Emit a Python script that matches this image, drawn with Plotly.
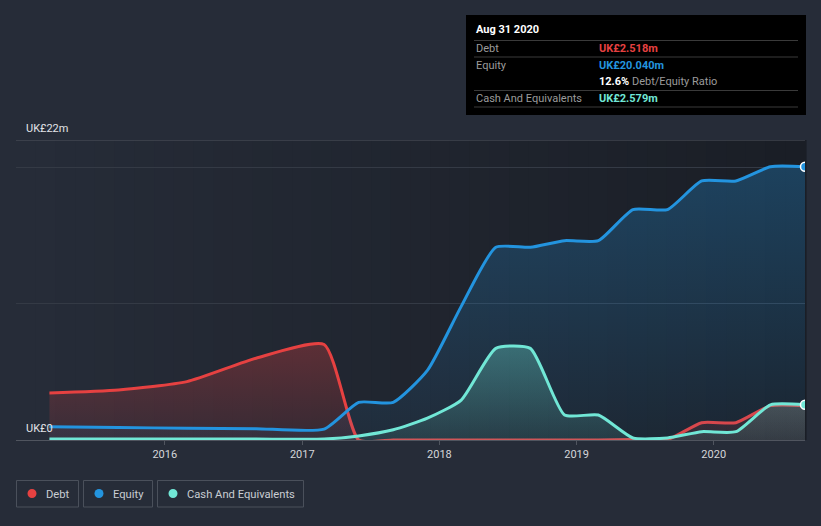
import plotly.graph_objects as go

# ---------------- data (UK£ millions) ----------------
dates = ["2015-02-28", "2015-08-31", "2016-02-29", "2016-08-31", "2017-02-28",
         "2017-05-31", "2017-08-31", "2017-11-30", "2018-02-28", "2018-05-31",
         "2018-08-31", "2018-11-30", "2019-02-28", "2019-05-31", "2019-08-31",
         "2019-11-30", "2020-02-29", "2020-05-31", "2020-08-31"]
debt = [3.45, 3.67, 4.28, 6.0, 7.0,
        0.0, 0.0, 0.0, 0.0, 0.0,
        0.0, 0.0, 0.0, 0.03, 0.03,
        1.27, 1.27, 2.518, 2.518]
equity = [0.98, 0.92, 0.86, 0.83, 0.80,
          2.76, 2.76, 5.1, 9.8, 14.13,
          14.13, 14.62, 14.62, 16.9, 16.9,
          19.0, 19.0, 20.04, 20.04]
cash = [0.07, 0.07, 0.07, 0.07, 0.07,
        0.3, 0.75, 1.6, 2.93, 6.72,
        6.72, 1.83, 1.83, 0.15, 0.15,
        0.61, 0.61, 2.579, 2.579]
year_ticks = ["2016-01-01", "2017-01-01", "2018-01-01", "2019-01-01", "2020-01-01"]
year_labels = ["2016", "2017", "2018", "2019", "2020"]
y_labels = ["UK£0", "UK£22m"]
y_label_vals = [0, 22]

DEBT_C = "#e64141"
EQ_C = "#2394df"
CASH_C = "#71e7d6"
BG = "#262c38"
FONT = "Roboto, Arial, sans-serif"
SMOOTH = 0.55

W, H = 821, 526
L, R, T, B = 16, 16, 140, 86
PW, PH = W - L - R, H - T - B


def px(x):
    return (x - L) / PW


def py(y):
    return (H - B - y) / PH


fig = go.Figure()

fig.add_trace(go.Scatter(
    x=dates, y=debt, name="Debt", mode="lines",
    line=dict(color=DEBT_C, width=3, shape="spline", smoothing=SMOOTH),
    fill="tozeroy",
    fillgradient=dict(type="vertical", start=0, stop=7,
                      colorscale=[[0, "rgba(230,65,65,0.10)"], [1, "rgba(230,65,65,0.30)"]]),
    hoverinfo="skip"))
fig.add_trace(go.Scatter(
    x=dates, y=equity, name="Equity", mode="lines",
    line=dict(color=EQ_C, width=3, shape="spline", smoothing=SMOOTH),
    fill="tozeroy",
    fillgradient=dict(type="vertical", start=0, stop=20,
                      colorscale=[[0, "rgba(35,148,223,0.06)"], [1, "rgba(35,148,223,0.30)"]]),
    hoverinfo="skip"))
fig.add_trace(go.Scatter(
    x=dates, y=cash, name="Cash And Equivalents", mode="lines",
    line=dict(color=CASH_C, width=3, shape="spline", smoothing=SMOOTH),
    fill="tozeroy",
    fillgradient=dict(type="vertical", start=0, stop=6.7,
                      colorscale=[[0, "rgba(113,231,214,0.10)"], [1, "rgba(113,231,214,0.32)"]]),
    hoverinfo="skip"))

# end markers (clipped by the plot edge, as in the reference)
fig.add_trace(go.Scatter(x=[dates[-1]], y=[equity[-1]], mode="markers",
                         marker=dict(color=EQ_C, size=9, line=dict(color="white", width=1.5)),
                         cliponaxis=True, hoverinfo="skip", showlegend=False))
fig.add_trace(go.Scatter(x=[dates[-1]], y=[cash[-1]], mode="markers",
                         marker=dict(color=CASH_C, size=9, line=dict(color="white", width=1.5)),
                         cliponaxis=True, hoverinfo="skip", showlegend=False))

shapes = []
# plot background gradient (left lighter -> right darker)
N = 40
c0 = (38, 44, 56)
c1 = (26, 30, 38)
for i in range(N):
    t = i / (N - 1)
    col = tuple(round(c0[k] + (c1[k] - c0[k]) * t) for k in range(3))
    shapes.append(dict(type="rect", xref="paper", yref="paper",
                       x0=i / N, x1=(i + 1) / N + 0.002, y0=0, y1=1,
                       fillcolor="rgb(%d,%d,%d)" % col, line=dict(width=0), layer="below"))
# top line at 22m
shapes.append(dict(type="line", xref="paper", yref="y", x0=0, x1=1, y0=22, y1=22,
                   line=dict(color="#50555f", width=1.2), layer="below"))

# tooltip box
shapes.append(dict(type="rect", xref="paper", yref="paper",
                   x0=px(466), x1=px(806), y0=py(115), y1=py(15),
                   fillcolor="#000000", line=dict(width=0), layer="above"))
for sy in [40.5, 57, 90.5, 107]:
    shapes.append(dict(type="line", xref="paper", yref="paper",
                       x0=px(474), x1=px(798), y0=py(sy), y1=py(sy),
                       line=dict(color="#3a3a3a", width=1), layer="above"))

# legend boxes
legend_items = [("Debt", DEBT_C, 16, 79), ("Equity", EQ_C, 83, 153),
                ("Cash And Equivalents", CASH_C, 157, 304)]
annotations = []
for name, col, x0, x1 in legend_items:
    shapes.append(dict(type="rect", xref="paper", yref="paper",
                       x0=px(x0 + 0.5), x1=px(x1 - 0.5), y0=py(507), y1=py(480.5),
                       fillcolor="rgba(0,0,0,0)", line=dict(color="#4a505b", width=1)))
    cx = x0 + 16
    shapes.append(dict(type="circle", xref="paper", yref="paper",
                       x0=px(cx - 4.5), x1=px(cx + 4.5), y0=py(493.5 + 4.5), y1=py(493.5 - 4.5),
                       fillcolor=col, line=dict(width=0)))
    annotations.append(dict(text=name, xref="paper", yref="paper", x=px(x0 + 28), y=py(494),
                            xanchor="left", yanchor="middle", showarrow=False,
                            font=dict(family=FONT, size=11.2, color="#c9cdd3")))

# y labels
for lab, v in zip(y_labels, y_label_vals):
    annotations.append(dict(text=lab, xref="paper", yref="y", x=px(24), y=v,
                            xanchor="left", yanchor="bottom", yshift=3, showarrow=False,
                            font=dict(family=FONT, size=11, color="#e2e4e8")))

# tooltip text
tt = [
    ("<b>Aug 31 2020</b>", 474, 30, "#ffffff"),
    ("Debt", 474, 48.5, "#9b9b9b"),
    ("Equity", 474, 65, "#9b9b9b"),
    ("Cash And Equivalents", 474, 98.5, "#9b9b9b"),
    ("<b>UK£%.3fm</b>" % debt[-1], 597, 48.5, DEBT_C),
    ("<b>UK£%.3fm</b>" % equity[-1], 597, 65, EQ_C),
    ("<b>%.1f%%</b> <span style='color:#9b9b9b'>Debt/Equity Ratio</span>" % (100 * debt[-1] / equity[-1]),
     597, 81.5, "#ffffff"),
    ("<b>UK£%.3fm</b>" % cash[-1], 597, 98.5, CASH_C),
]
for text, x, y, col in tt:
    annotations.append(dict(text=text, xref="paper", yref="paper", x=px(x), y=py(y),
                            xanchor="left", yanchor="middle", showarrow=False,
                            font=dict(family=FONT, size=11, color=col)))

fig.update_layout(
    width=W, height=H, autosize=False,
    margin=dict(l=L, r=R, t=T, b=B, pad=0),
    paper_bgcolor=BG, plot_bgcolor=BG,
    showlegend=False,
    font=dict(family=FONT, size=11, color="#c9cdd3"),
    shapes=shapes, annotations=annotations,
    xaxis=dict(type="date", range=["2014-12-01", "2020-08-31"],
               tickvals=year_ticks, ticktext=year_labels,
               showgrid=False, zeroline=False,
               showline=True, linecolor="#50555f", linewidth=1,
               ticks="outside", ticklen=4, tickcolor="#50555f",
               tickfont=dict(family=FONT, size=11, color="#d4d6da"),
               fixedrange=True),
    yaxis=dict(range=[0, 22], tickvals=[10, 20], showticklabels=False,
               showgrid=True, gridcolor="#343a45", gridwidth=1,
               zeroline=False, showline=False, fixedrange=True),
)

fig.write_html(
    "out.html",
    config={"displayModeBar": False},
    post_script="document.body.style.margin='0';document.body.style.background='%s';" % BG,
)
